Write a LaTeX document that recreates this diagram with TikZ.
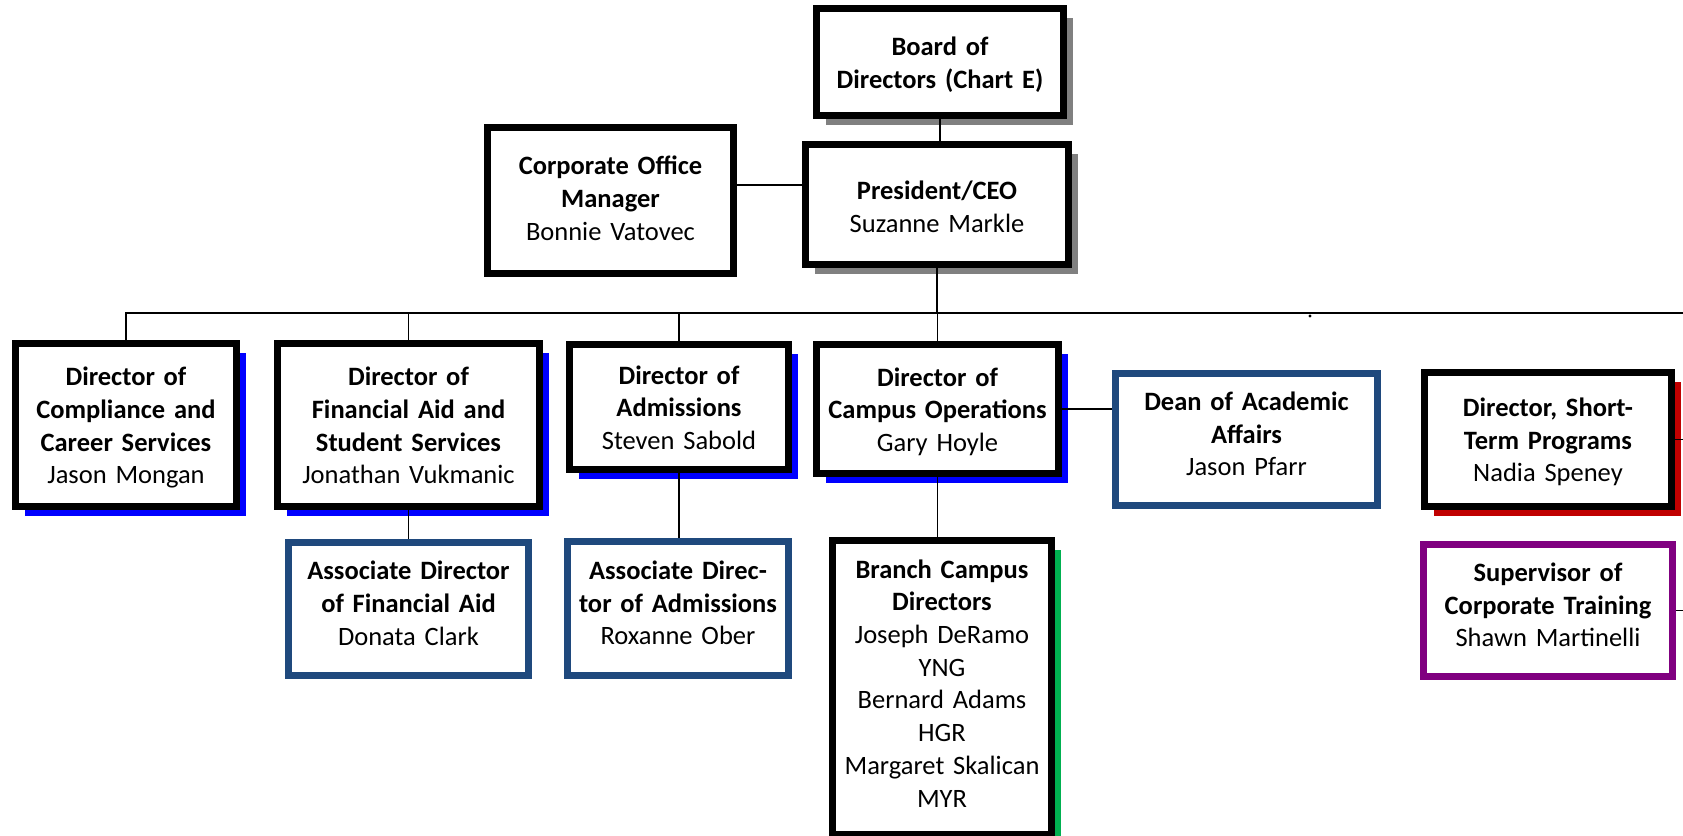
\documentclass[tikz,border=0pt]{standalone}
\usepackage{fontspec}
\setmainfont{Carlito}
\usepackage{tikz}
\usetikzlibrary{shadows}
\usepackage{xcolor}
\definecolor{shadeBlue}{HTML}{0000FF}
\definecolor{shadeGray}{HTML}{808080}
\definecolor{shadeRed}{HTML}{C00000}
\definecolor{shadeGreen}{HTML}{00B050}
\definecolor{deanBlue}{HTML}{1F497D}
\definecolor{trainPurple}{HTML}{800080}

\begin{document}
\begin{tikzpicture}[
    x=0.5pt, y=-0.5pt,
    baseBox/.style={rectangle, fill=white, line width=3.5pt, text width=109.5pt, align=center, inner sep=0pt,
        font=\fontsize{13.25pt}{16.35pt}\selectfont, execute at end node={\unskip\strut}},
    execBox/.style={baseBox, draw=black, text height=14.65pt},
    assocBox/.style={baseBox, draw=deanBlue, text height=8.45pt},
    trainBox/.style={baseBox, draw=trainPurple, text height=8.45pt},
    castShadow/.style={drop shadow={shadow xshift=4.5pt, shadow yshift=-4.5pt, fill=#1, opacity=1}},
    linkStyle/.style={line width=0.8pt, draw=black}
]
    \clip (0,0) rectangle (1683,836);
    \coordinate (busEnd) at (1683, 313);

    % top of the chart
    \node[execBox, castShadow=shadeGray, minimum width=123.5pt, minimum height=53.5pt] (board) at (940, 62) {
        \textbf{Board of}\\\textbf{Directors (Chart E)}
    };
    \node[execBox, castShadow=shadeGray, text height=16.25pt, minimum width=131.5pt, minimum height=60pt] (pres) at (937, 204.5) {
        \textbf{President/CEO}\\Suzanne Markle
    };
    \node[execBox, text height=12.05pt, minimum width=123pt, minimum height=73pt] (corp) at (610.5, 200.5) {
        \textbf{Corporate Office}\\\textbf{Manager}\\Bonnie Vatovec
    };

    % directors
    \node[execBox, castShadow=shadeBlue, minimum width=110.5pt, minimum height=81.5pt] (compl) at (126, 425) {
        \textbf{Director of}\\\textbf{Compliance and}\\\textbf{Career Services}\\Jason Mongan
    };
    \node[execBox, castShadow=shadeBlue, minimum width=131pt, minimum height=81.5pt] (finAid) at (408.5, 425) {
        \textbf{Director of}\\\textbf{Financial Aid and}\\\textbf{Student Services}\\Jonathan Vukmanic
    };
    \node[execBox, castShadow=shadeBlue, minimum width=109.5pt, minimum height=62.5pt] (admis) at (679, 407) {
        \textbf{Director of}\\\textbf{Admissions}\\Steven Sabold
    };
    \node[execBox, castShadow=shadeBlue, minimum width=121pt, minimum height=64.5pt] (campus) at (937.5, 409) {
        \textbf{Director of}\\\textbf{Campus Operations}\\Gary Hoyle
    };
    \node[assocBox, minimum width=131pt, minimum height=66pt] (dean) at (1246.5, 439.5) {
        \textbf{Dean of Academic}\\\textbf{Affairs}\\Jason Pfarr
    };
    \node[execBox, castShadow=shadeRed, minimum width=123.5pt, minimum height=67pt] (shortTerm) at (1548, 439.5) {
        \textbf{Director, Short-}\\\textbf{Term Programs}\\Nadia Speney
    };

    % second level
    \node[assocBox, minimum width=120pt, minimum height=66.5pt] (assocFin) at (408.5, 609) {
        \textbf{Associate Director}\\\textbf{of Financial Aid}\\Donata Clark
    };
    \node[assocBox, minimum width=110.5pt, minimum height=67pt] (assocAdm) at (678, 608.5) {
        \textbf{Associate Direc-}\\\textbf{tor of Admissions}\\Roxanne Ober
    };
    \node[execBox, castShadow=shadeGreen, text height=9.95pt, minimum width=109.5pt, minimum height=147pt] (branch) at (942, 687.5) {
        \textbf{Branch Campus}\\\textbf{Directors}\\Joseph DeRamo\\YNG\\Bernard Adams\\HGR\\Margaret Skalican\\MYR
    };
    \node[trainBox, minimum width=124.5pt, minimum height=66pt] (training) at (1548, 610.5) {
        \textbf{Supervisor of}\\\textbf{Corporate Training}\\Shawn Martinelli
    };

    \coordinate (corpJoin) at ([yshift=7.75pt]corp.east);
    \draw[linkStyle] (board.south) -- (board.south |- pres.north);
    \draw[linkStyle] (corpJoin) -- (corpJoin -| pres.west);
    \draw[linkStyle] (pres.south) -- (pres.south |- busEnd);
    \draw[linkStyle] (compl.north) |- (busEnd);
    \foreach \dir in {finAid, admis, campus}
        \draw[linkStyle] (\dir.north) -- (\dir.north |- busEnd);
    \draw[linkStyle] (finAid.south) -- (assocFin.north);
    \draw[linkStyle] (admis.south) -- (admis.south |- assocAdm.north);
    \draw[linkStyle] (campus.south) -- (campus.south |- branch.north);
    \draw[linkStyle] (campus.east) -- (campus.east -| dean.west);
    \draw[linkStyle] (shortTerm.east) -- (shortTerm.east -| busEnd);
    \draw[linkStyle] (training.east) -- (training.east -| busEnd);
    \fill (1310, 316) circle (0.8pt);
\end{tikzpicture}
\end{document}
